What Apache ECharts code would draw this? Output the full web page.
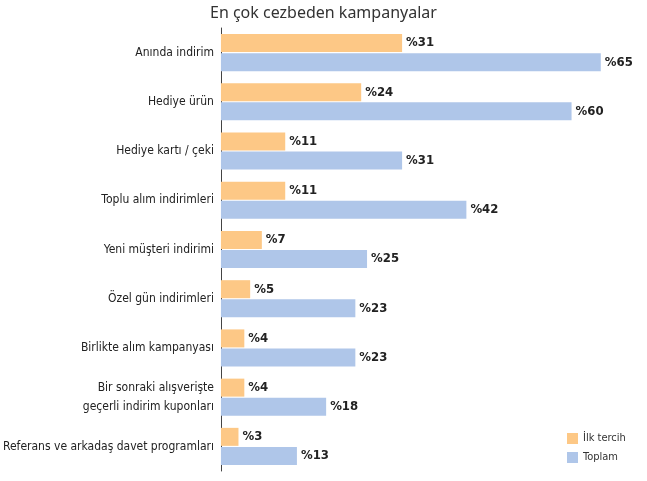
<!DOCTYPE html>
<html><head><meta charset="utf-8">
<script src="https://cdn.jsdelivr.net/npm/echarts@6/dist/echarts.min.js"></script>
<style>html,body{margin:0;background:#fff}#c{width:647px;height:481px}</style>
</head><body><div id="c"></div>
<script>
const categories = ['Anında indirim', 'Hediye ürün', 'Hediye kartı / çeki', 'Toplu alım indirimleri',
  'Yeni müşteri indirimi', 'Özel gün indirimleri', 'Birlikte alım kampanyası',
  'Bir sonraki alışverişte\ngeçerli indirim kuponları', 'Referans ve arkadaş davet programları'];
const firstChoice = [31, 24, 11, 11, 7, 5, 4, 4, 3];
const total = [65, 60, 31, 42, 25, 23, 23, 18, 13];

const chart = echarts.init(document.getElementById('c'));
const label = {
  show: true, position: 'right', distance: 4, formatter: p => '%' + p.value,
  fontFamily: 'DejaVu Sans Condensed', fontWeight: 'bold', fontSize: 13, color: '#222'
};
chart.setOption({
  animation: false,
  title: {
    text: 'En çok cezbeden kampanyalar', left: 205, top: 0,
    textStyle: { fontFamily: 'Noto Sans', fontWeight: 'normal', fontSize: 16, color: '#333' }
  },
  legend: {
    orient: 'vertical', left: 562, top: 428, itemWidth: 11, itemHeight: 11, itemGap: 8,
    icon: 'rect',
    textStyle: { fontFamily: 'DejaVu Sans Condensed', fontSize: 11, color: '#333' }
  },
  grid: { left: 210, top: 28, width: 420, bottom: 10 },
  xAxis: { type: 'value', min: 0, max: 70, show: false },
  yAxis: {
    type: 'category', data: categories, inverse: true,
    axisLine: { lineStyle: { color: '#444' } }, axisTick: { show: false },
    axisLabel: { fontFamily: 'DejaVu Sans Condensed', fontSize: 12, color: '#222', margin: 7, lineHeight: 19 }
  },
  series: [
    { name: 'İlk tercih', type: 'bar', data: firstChoice, barWidth: 18, barGap: '6%',
      itemStyle: { color: '#FDC886' }, label },
    { name: 'Toplam', type: 'bar', data: total, barWidth: 18,
      itemStyle: { color: '#AFC6E9' }, label }
  ]
});
</script></body></html>
